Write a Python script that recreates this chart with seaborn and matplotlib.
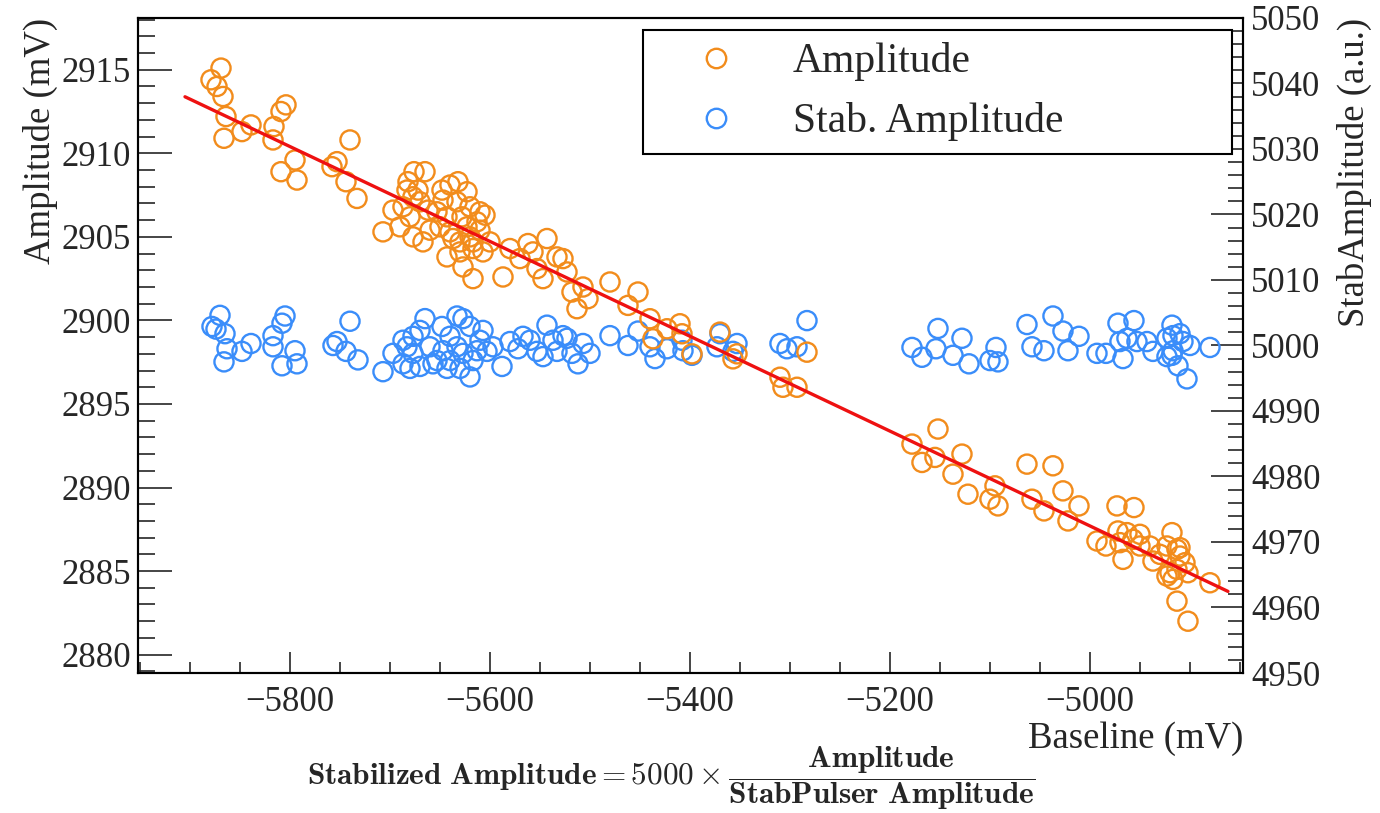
import numpy as np
import matplotlib
matplotlib.use("Agg")
import matplotlib.pyplot as plt
import seaborn as sns
from matplotlib.lines import Line2D
from matplotlib.ticker import MultipleLocator

# Amplitude (mV) vs Baseline (mV)
amp_baseline = [
    -5869, -5879, -5873, -5867, -5864, -5866, -5848, -5839, -5816, -5817, -5809, -5804,
    -5795, -5809, -5793, -5758, -5753, -5740, -5744, -5733, -5707, -5676, -5665,
    -5683, -5677, -5687, -5697, -5670, -5680, -5690, -5677, -5667, -5660, -5682, -5672,
    -5662, -5648, -5640, -5632, -5623, -5647, -5633, -5620, -5610, -5605, -5650, -5640,
    -5630, -5620, -5610, -5600, -5643, -5630, -5617, -5607, -5627, -5617, -5637, -5623,
    -5613, -5643, -5653, -5628, -5617,
    -5587, -5580, -5570, -5562, -5557, -5553, -5543, -5547, -5533, -5527, -5523, -5518,
    -5507, -5502, -5513, -5480, -5452, -5462, -5440, -5423, -5410, -5408, -5437, -5398,
    -5370, -5357, -5353, -5283, -5310, -5307, -5293,
    -5178, -5152, -5168, -5155, -5128, -5137, -5122, -5095, -5100, -5092, -5063, -5037,
    -5058, -5046, -5027, -5022, -5011, -4993, -4984, -4973, -4956, -4972, -4963, -4970,
    -4967, -4957, -4950, -4950, -4940, -4937, -4918, -4923, -4913, -4910, -4905, -4920,
    -4917, -4913, -4902, -4923, -4913, -4902, -4880, -4910, -4930,
]
amplitude = [
    2915.1, 2914.4, 2914.0, 2913.4, 2912.2, 2910.9, 2911.3, 2911.7, 2911.6, 2910.8, 2912.5, 2912.9,
    2909.6, 2908.9, 2908.4, 2909.2, 2909.5, 2910.8, 2908.3, 2907.3, 2905.3, 2908.9, 2908.9,
    2907.8, 2907.4, 2906.8, 2906.6, 2907.1, 2906.2, 2905.6, 2905.0, 2904.7, 2905.4, 2908.3, 2907.8,
    2906.6, 2907.8, 2908.1, 2908.3, 2907.7, 2907.2, 2907.1, 2906.8, 2906.5, 2906.3, 2905.6, 2905.3,
    2904.7, 2905.0, 2905.4, 2904.7, 2903.8, 2904.1, 2904.3, 2904.1, 2903.2, 2902.5, 2904.9, 2905.6,
    2905.9, 2906.2, 2906.5, 2906.2, 2904.7,
    2902.6, 2904.3, 2903.7, 2904.6, 2904.1, 2903.1, 2904.9, 2902.5, 2903.8, 2903.7, 2902.9, 2901.7,
    2902.0, 2901.3, 2900.7, 2902.3, 2901.7, 2900.9, 2900.1, 2899.5, 2899.8, 2899.2, 2898.9, 2898.0,
    2899.3, 2897.7, 2898.0, 2898.1, 2896.6, 2896.0, 2896.0,
    2892.6, 2893.5, 2891.5, 2891.8, 2892.0, 2890.8, 2889.6, 2890.1, 2889.3, 2888.9, 2891.4, 2891.3,
    2889.3, 2888.6, 2889.8, 2888.0, 2888.9, 2886.8, 2886.5, 2888.9, 2888.8, 2887.4, 2887.3, 2886.7,
    2885.7, 2886.9, 2887.2, 2886.5, 2886.5, 2885.6, 2887.3, 2886.5, 2886.3, 2885.9, 2885.5, 2884.9,
    2884.5, 2885.1, 2884.9, 2884.7, 2883.2, 2882.0, 2884.3, 2886.4, 2886.0,
]

# Stabilized amplitude (a.u.) vs Baseline (mV)
stab_baseline = [
    -5878, -5870, -5874, -5865, -5863, -5866, -5848, -5839, -5817, -5817, -5808, -5805,
    -5808, -5795, -5793, -5757, -5753, -5740, -5744, -5732, -5707,
    -5697, -5687, -5683, -5677, -5670, -5665, -5680, -5670, -5660, -5653, -5648, -5640,
    -5633, -5627, -5620, -5643, -5630, -5620, -5617, -5610, -5607, -5603, -5597, -5633,
    -5647, -5657, -5627, -5640, -5613, -5677, -5687,
    -5588, -5580, -5572, -5567, -5560, -5553, -5547, -5543, -5537, -5533, -5527, -5523,
    -5518, -5512, -5507, -5500, -5480, -5462, -5452, -5440, -5435, -5423, -5408, -5407,
    -5398, -5370, -5373, -5353, -5357, -5310, -5303, -5293, -5283,
    -5178, -5168, -5152, -5154, -5137, -5128, -5121, -5100, -5094, -5092, -5063, -5037,
    -5058, -5046, -5027, -5022, -5011, -4993, -4984, -4972, -4956, -4970, -4963, -4967,
    -4953, -4943, -4937, -4918, -4923, -4917, -4910, -4923, -4917, -4912, -4903, -4907,
    -4900, -4918, -4880,
]
stab_amplitude = [
    5002.9, 5004.6, 5002.5, 5001.8, 4999.5, 4997.5, 4999.1, 5000.3, 5001.5, 4999.8, 5003.4, 5004.5,
    4996.9, 4999.2, 4997.2, 5000.0, 5000.6, 5003.7, 4999.1, 4997.8, 4996.0,
    4998.8, 4997.2, 4999.8, 5001.4, 5002.3, 5004.1, 4996.5, 4996.8, 4999.8, 4997.7, 5002.9, 5001.4,
    5004.5, 5004.1, 5002.9, 4996.5, 4996.5, 4995.2, 4997.7, 5000.8, 5002.3, 4999.1, 4999.8, 4999.8,
    4999.2, 4997.2, 4998.8, 4997.7, 4999.2, 4998.8, 5000.8,
    4996.8, 5000.6, 4999.5, 5001.4, 5000.8, 4999.1, 4998.3, 5003.1, 5000.8, 4999.1, 5001.5, 5001.1,
    4998.8, 4997.2, 5000.3, 4998.8, 5001.5, 5000.0, 5002.2, 4999.8, 4998.0, 4999.5, 5000.8, 4999.2,
    4998.5, 5001.8, 4999.8, 5000.3, 4999.1, 5000.3, 4999.5, 4999.8, 5003.8,
    4999.7, 4998.2, 5002.6, 4999.5, 4998.5, 5001.1, 4997.2, 4997.7, 4999.7, 4997.5, 5003.2, 5004.5,
    4999.8, 4999.2, 5002.2, 4999.2, 5001.4, 4998.8, 4998.8, 5003.4, 5003.8, 5000.6, 5001.1, 4998.0,
    5000.6, 5000.6, 4999.1, 5003.1, 5001.1, 5001.5, 5001.8, 4998.3, 4999.2, 4996.9, 4994.9, 5000.6,
    5000.0, 4998.5, 4999.7,
]

# linear fit drawn on the amplitude
fit_slope = -0.02838
fit_intercept = 2745.8
fit_range = [-5905, -4862]

orange = "#f28c1c"
blue = "#3a8dfa"

sns.set_style("ticks")
plt.rcParams["font.family"] = ["Liberation Serif", "DejaVu Serif"]
plt.rcParams["mathtext.fontset"] = "cm"

fig = plt.figure(figsize=(13.8, 8.13), dpi=100)
ax = fig.add_axes([0.1, 0.1722, 0.8007, 0.8057])
ax2 = ax.twinx()

sns.scatterplot(x=amp_baseline, y=amplitude, ax=ax, s=190, marker="o",
                facecolors="none", edgecolor=orange, linewidth=1.7, zorder=2)
fit_x = np.array(fit_range, dtype=float)
sns.lineplot(x=fit_x, y=fit_intercept + fit_slope * fit_x, ax=ax,
             color="#ee1111", linewidth=2.4, zorder=3)
sns.scatterplot(x=stab_baseline, y=stab_amplitude, ax=ax2, s=190, marker="o",
                facecolors="none", edgecolor=blue, linewidth=1.7)

# draw amplitude axis on top so the fit stays visible
ax.set_zorder(ax2.get_zorder() + 1)
ax.patch.set_visible(False)

ax.set_xlim(-5952, -4847)
ax.set_ylim(2878.9, 2918.1)
ax2.set_ylim(4950, 5050)

ax.xaxis.set_major_locator(MultipleLocator(200))
ax.xaxis.set_minor_locator(MultipleLocator(50))
ax.yaxis.set_major_locator(MultipleLocator(5))
ax.yaxis.set_minor_locator(MultipleLocator(1))
ax2.yaxis.set_major_locator(MultipleLocator(10))
ax2.yaxis.set_minor_locator(MultipleLocator(2))

ax.tick_params(axis="y", which="major", direction="in", length=24.5, width=1.2,
               labelsize=25, pad=5, right=False)
ax.tick_params(axis="y", which="minor", direction="in", length=12, width=1.2, right=False)
ax.tick_params(axis="x", which="major", direction="in", length=15, width=1.2,
               labelsize=25, pad=9, top=False)
ax.tick_params(axis="x", which="minor", direction="in", length=8, width=1.2, top=False)
ax2.tick_params(axis="y", which="major", direction="in", length=23, width=1.2,
                labelsize=25, pad=6)
ax2.tick_params(axis="y", which="minor", direction="in", length=11, width=1.2)

for a in (ax, ax2):
    for sp in a.spines.values():
        sp.set_linewidth(1.5)
        sp.set_color("black")

ax.set_xlabel("Baseline (mV)", fontsize=26.5, loc="right")
ax.xaxis.set_label_coords(1.0, -0.074)
ax.set_ylabel("Amplitude (mV)", fontsize=26.5, loc="top")
ax.yaxis.set_label_coords(-0.072, 1.0)
ax2.set_ylabel("StabAmplitude (a.u.)", fontsize=26.5, loc="top")
ax2.yaxis.set_label_coords(1.085, 1.0)

handles = [
    Line2D([], [], linestyle="none", marker="o", markersize=14, markerfacecolor="none",
           markeredgecolor=orange, markeredgewidth=1.7, label="Amplitude"),
    Line2D([], [], linestyle="none", marker="o", markersize=14, markerfacecolor="none",
           markeredgecolor=blue, markeredgewidth=1.7, label="Stab. Amplitude"),
]
leg = ax.legend(handles=handles, loc="upper left", bbox_to_anchor=(0.457, 0.982, 0.533, 0),
                mode="expand", borderaxespad=0, fontsize=30, frameon=True, fancybox=False,
                framealpha=1, edgecolor="black", borderpad=0.3, handlelength=2.9,
                handletextpad=0.4, labelspacing=0.5)
leg.get_frame().set_linewidth(1.5)

fig.text(0.486, 0.043,
         r"$\mathbf{Stabilized\ Amplitude} = \mathbf{5000} \times "
         r"\dfrac{\mathbf{Amplitude}}{\mathbf{StabPulser\ Amplitude}}$",
         ha="center", va="center", fontsize=22.5)

fig.savefig("out.png", dpi=100)
